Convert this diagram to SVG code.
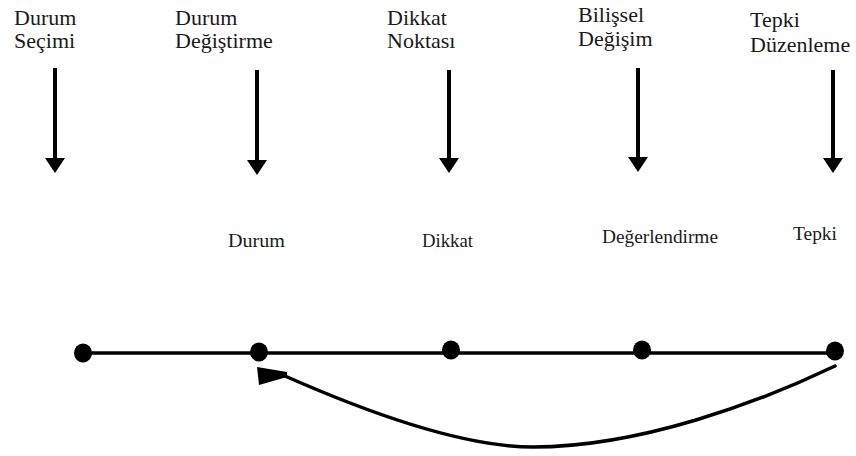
<svg xmlns="http://www.w3.org/2000/svg" width="856" height="456" viewBox="0 0 856 456">
  <style>
    text { font-family: "Liberation Serif", "Times New Roman", "DejaVu Serif", serif; fill: #1a1a1a; }
    .top { font-size: 22px; }
    .mid { font-size: 18.5px; }
    .shaft { stroke: #000; stroke-width: 4; fill: none; }
    .dot { fill: #000; }
    .axis { stroke: #000; stroke-width: 3.5; fill: none; }
    .curve { stroke: #000; stroke-width: 3.5; fill: none; stroke-linecap: round; }
  </style>
  <defs>
    <marker id="down" viewBox="0 -10 15 20" refX="0" refY="0" markerWidth="15" markerHeight="20" markerUnits="userSpaceOnUse" orient="auto">
      <path d="M0,-10 L15,0 L0,10 Z" fill="#000"/>
    </marker>
  </defs>

  <g id="col1">
    <text class="top" x="14" y="25" font-family="Liberation Serif">Durum</text>
    <text class="top" x="14" y="48" font-family="Liberation Serif">Seçimi</text>
  </g>
  <g id="col2">
    <text class="top" x="175" y="25" font-family="Liberation Serif">Durum</text>
    <text class="top" x="175" y="48" font-family="Liberation Serif">Değiştirme</text>
    <text class="mid" x="228" y="247" textLength="57" lengthAdjust="spacingAndGlyphs" font-family="Liberation Serif">Durum</text>
  </g>
  <g id="col3">
    <text class="top" x="387" y="25" font-family="Liberation Serif">Dikkat</text>
    <text class="top" x="387" y="48" font-family="Liberation Serif">Noktası</text>
    <text class="mid" x="422" y="247" textLength="51" lengthAdjust="spacingAndGlyphs" font-family="Liberation Serif">Dikkat</text>
  </g>
  <g id="col4">
    <text class="top" x="578" y="22" font-family="Liberation Serif">Bilişsel</text>
    <text class="top" x="578" y="46" font-family="Liberation Serif">Değişim</text>
    <text class="mid" x="602" y="243" textLength="116" lengthAdjust="spacingAndGlyphs" font-family="Liberation Serif">Değerlendirme</text>
  </g>
  <g id="col5">
    <text class="top" x="750" y="27" font-family="Liberation Serif">Tepki</text>
    <text class="top" x="750" y="52" font-family="Liberation Serif">Düzenleme</text>
    <text class="mid" x="793" y="240" textLength="44" lengthAdjust="spacingAndGlyphs" font-family="Liberation Serif">Tepki</text>
  </g>

  <g id="connectors">
    <line class="shaft" x1="55" y1="68" x2="55" y2="158" marker-end="url(#down)"/>
    <line class="shaft" x1="257" y1="70" x2="257" y2="160" marker-end="url(#down)"/>
    <line class="shaft" x1="449" y1="70" x2="449" y2="158" marker-end="url(#down)"/>
    <line class="shaft" x1="638" y1="68" x2="638" y2="157" marker-end="url(#down)"/>
    <line class="shaft" x1="833" y1="70" x2="833" y2="158" marker-end="url(#down)"/>

    <line class="axis" x1="83" y1="353" x2="835" y2="353"/>

    <path class="curve" d="M835,366 C760,402 640,447 533,447 C470,447 380,418 285,376"/>
    <polygon points="257,367 287,372 287,377 259,385" fill="#000"/>
  </g>

  <g id="dots">
    <ellipse class="dot" cx="83" cy="353" rx="9" ry="9.5"/>
    <ellipse class="dot" cx="259" cy="352" rx="9" ry="9.5"/>
    <ellipse class="dot" cx="451" cy="350" rx="9" ry="9.5"/>
    <ellipse class="dot" cx="642" cy="350" rx="9" ry="9.5"/>
    <ellipse class="dot" cx="835" cy="351" rx="9" ry="9.5"/>
  </g>
</svg>
